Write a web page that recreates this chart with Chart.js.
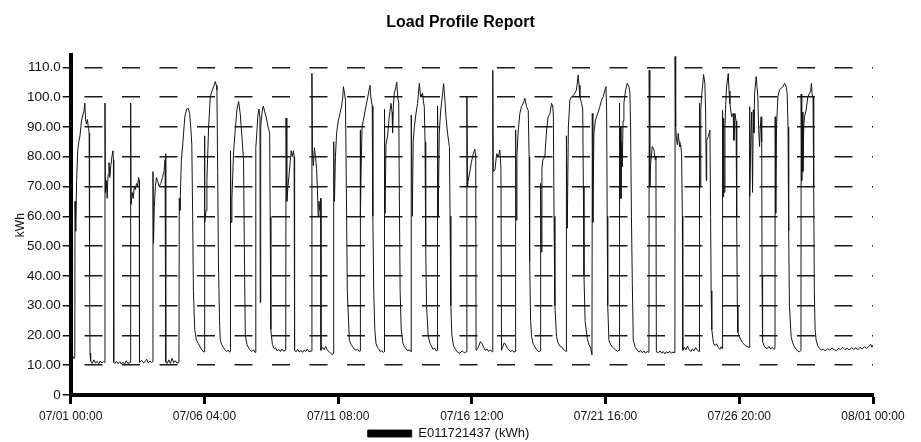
<!DOCTYPE html>
<html>
<head>
<meta charset="utf-8">
<script src="https://cdn.jsdelivr.net/npm/chart.js@4.4.1/dist/chart.umd.min.js"></script>
<style>
html,body{margin:0;padding:0;background:#fff;}
#wrap{width:921px;height:442px;}
</style>
</head>
<body>
<div id="wrap"><canvas id="c" width="921" height="442"></canvas></div>
<script>
// Tick labels (x: hours since 07/01 00:00, every 124 h)
const xTickLabels = ['07/01 00:00','07/06 04:00','07/11 08:00','07/16 12:00','07/21 16:00','07/26 20:00','08/01 00:00'];
const yTickLabels = ['0','10.00','20.00','30.00','40.00','50.00','60.00','70.00','80.00','90.00','100.0','110.0'];
const chartTitle = 'Load Profile Report';
const seriesLabel = 'E011721437 (kWh)';
const yAxisTitle = 'kWh';

// Readings: [hours since 07/01 00:00, kWh]
const loadReadings = [
  // 07/01
  [0,12.5],[1,12],[2,13],[3,12.2],[3.8,13],[4.0,65],[4.6,55],[5.5,72],[6.5,82],[7.5,85],[8.6,87],[10,92],[11.2,94],[12.2,95],[13.1,98],[13.8,92.5],[14.6,91],[15.5,92.5],[16.5,89.5],[17.1,88],[17.5,40],[17.9,14],[18.5,11.5],[20,10.6],[21.5,11.8],[23,10.7],[24.5,11.3],[26,10.5],[27.5,11.4],[29,10.8],[30.5,11.2],[31.6,10.9],
  // 07/02
  [31.8,98],[32.2,68],[33,72],[33.8,66],[34.6,74],[35.5,78],[36.3,73],[37.2,77],[38.2,80],[39.2,82],[39.6,79],[39.9,11],[41,10.6],[42.5,11.3],[44,10.5],[45.5,11.2],[47,10.4],[48.5,11],[50,10.3],[51.5,11.5],[53,10.6],[55.3,10.9],
  // 07/03
  [55.6,98],[56,64],[57,68],[58,66],[59,70],[60,69],[61,71],[62,70],[63,73],[63.6,72],[63.8,11],[64.5,11.2],[66,11.6],[67.5,10.8],[69,11.2],[70.5,12],[72,10.7],[73.5,11.4],[75,10.9],[76,11.2],
  // 07/04
  [76.3,75],[76.8,51],[77.5,63],[78.5,70],[79.5,73],[80.5,72],[82,70],[83.5,71],[85,73],[86.5,75],[87.5,79],[88,81],[88.3,11],[89.5,10.6],[91,11.8],[92.5,10.6],[94,12.3],[95.5,10.8],[97,11.5],[98.5,10.7],[100.4,11],
  // 07/05
  [100.7,66],[101.3,62],[102.6,78.8],[104,84.5],[105.8,93.3],[107.5,96],[109,96.2],[110.3,94.5],[111.5,89],[112.3,84],[113.1,60],[113.8,35],[115,22],[116.5,18.5],[118.3,17.3],[120.5,15.8],[122.9,14.5],[123.7,14.5],
  // 07/06
  [124,87],[124.5,58],[125.5,62],[126.3,72],[127.9,90],[129.4,100],[131,102],[132.5,103.5],[134.1,105.2],[135,104],[135.6,102.4],[136.3,75],[137,45],[138,25],[138.7,18.4],[140,17],[141.5,16],[143,15.2],[144.5,14.6],[146,15.1],[147.3,14.4],[148,14.6],
  // 07/07
  [148.2,82],[148.7,58],[149.5,66],[151.1,82],[152.6,89],[154.1,95.7],[155.7,98.5],[157.2,94.5],[158.8,86.7],[160.3,79],[161,50],[161.9,20],[163.4,17],[165,15.8],[166.5,15],[168,14.6],[169.5,15.2],[171,14.3],[171.5,14.5],
  // 07/08
  [171.8,83],[172.6,88],[173.6,94],[174.6,96],[175.5,93],[175.8,31],[176.2,90],[177.5,95],[178.6,97],[180,95],[181.5,93],[183,90],[184.5,88],[185,60],[185.6,22],[187,17],[188.5,15.6],[190,15.8],[191.5,14.8],[193,15.3],[194.5,14.6],[196,15.4],[197.5,14.7],[199.4,15],
  // 07/09
  [199.7,93],[200.4,65],[201.5,70],[202.5,74],[203.5,78],[204.5,82],[205.5,80],[206.5,82],[207.2,80],[207.6,15],[209,14.5],[210.5,15.3],[212,14.4],[213.5,15],[215,14.3],[216.5,15.1],[218,14.6],[219.5,15.4],[221,14.5],[223.4,14.8],
  // 07/10
  [223.7,108],[224.2,82],[225,77],[226,83],[227,80],[228,76],[228.8,69],[229.5,60],[230.2,65],[231,62],[231.8,66],[232.1,15],[233.5,16],[235,15.2],[236.5,16.3],[238,15],[239.5,14.6],[241,14],[242.5,13.5],[243.6,14],
  // 07/11
  [243.9,85],[244.6,65],[245.5,80],[246.6,88],[248.1,92],[249.7,94.5],[251.2,97],[252.3,100],[252.9,103.5],[254,101],[254.8,99],[255.6,70],[256.5,35],[258.4,18.4],[260,17],[261.5,16.2],[263,15.4],[264.5,15],[266,15.4],[267.5,14.6],[268.3,14.8],
  // 07/12
  [268.5,89],[268.8,60],[269.3,75],[270.2,90],[271.3,92],[272.8,95],[274.4,98],[275.5,100],[277,103],[277.5,104],[278.4,100],[279.6,97],[280.2,60],[281,35],[282,22],[283.1,17.3],[284.5,16],[285.5,15.5],[287,14.6],[288.5,14.9],[290,14.3],[290.7,14.5],
  // 07/13
  [291,96],[291.5,61],[292.4,84],[293.9,87],[295.4,93.4],[297,97.9],[298,95],[298.5,88],[299.2,97],[300.1,101.3],[301.6,103.5],[302.4,105],[303.2,100.1],[304.2,98],[304.7,70],[305.5,35],[306.5,22],[308,17.5],[309.5,16.2],[311,15.5],[312.5,14.8],[314,15.2],[315.6,14.5],
  // 07/14
  [315.8,94],[316.8,60],[317.6,85],[318.7,90],[320.2,94.5],[321.7,97.9],[323.3,104.6],[324.2,101],[324.8,100],[326.3,101.3],[327.3,98],[327.9,96.8],[328.6,85],[329.2,50],[330,30],[331.5,20],[333,17.5],[334.5,16.5],[336,15.3],[337.5,15.8],[339,14.8],[340,15],
  // 07/15
  [340.2,97],[340.8,60],[341.8,88],[343,95],[344.9,101.3],[345.8,104.5],[346.8,100],[348,93.4],[349.5,87.8],[350.5,85],[351.2,83.4],[351.8,60],[352.5,30],[353.5,20],[355,16.5],[357,15.2],[359,14.3],[361,14],[363,14.8],[365,14.2],[367.1,14.5],
  // 07/16
  [367.4,100],[368,70],[368.6,72],[370.2,75],[371.5,78],[373.3,81],[374.8,82.5],[375.6,80],[375.9,15],[377,15.3],[378.5,16.5],[380,17.9],[381.5,17.2],[383,16],[384.5,15],[386,15.4],[387.5,14.6],[389,15.1],[391.2,14.5],
  // 07/17
  [391.4,109],[391.9,75],[393.4,75.5],[395,81],[396.5,80],[398,82.2],[399,76],[399.5,15],[400.5,16],[402,17.5],[403.5,16.8],[405,15.6],[406.5,15.1],[408,14.6],[409.5,15],[411,14.4],[412.4,14.6],
  // 07/18
  [412.6,89],[413.2,58.7],[413.8,80],[414.8,87.8],[416.5,94.5],[418,96.8],[419.6,97.9],[421.2,99.6],[422.7,96.8],[424.3,95.5],[425.1,80],[425.6,45],[426.5,25],[427.4,19.6],[429,17],[430.5,16.2],[432,15.3],[433.5,14.6],[435.6,14.8],
  // 07/19
  [435.8,71],[436.4,48],[437,76],[437.8,78.9],[439.7,80],[441.3,89],[442.8,93.4],[444.4,94.5],[445.9,97.9],[447,97],[447.6,94],[448.2,60],[449,30],[450.5,19.6],[452,17.5],[453.5,16.5],[455.2,16.2],[456.5,15.5],[458,15],[459.4,14.6],
  // 07/20
  [459.7,87],[460.5,56],[461.5,90],[462.9,99],[464.4,100.1],[466,100.5],[467.5,101.3],[469,102.4],[470.6,107.4],[471.4,104],[472.2,100.1],[473.7,97.9],[474.8,96],[475.4,70],[476,40],[477,25],[479,19],[480.5,17],[482,16],[483.4,13.5],
  // 07/21
  [483.7,94.5],[484.2,58],[485.2,88],[486.5,92],[487.6,93.4],[489.2,95],[490.7,96.8],[492.2,99],[493.8,100.1],[495.4,102.3],[496.4,103.5],[497,95],[497.5,60],[498,30],[499.1,18.4],[500.5,17],[502.2,16.2],[504,15.5],[505.5,15.1],[507,14.7],[508.5,15],
  // 07/22
  [508.7,98],[509.2,65],[509.8,90],[510.3,66],[510.8,85],[511.5,76.6],[512.2,92],[513,97.9],[514.6,102.4],[516.1,104.6],[517.7,103.5],[518.6,101.3],[519.2,90],[520,60],[520.8,37.5],[521.7,18.4],[523.5,16],[525.4,15.1],[527,14.4],[528.5,14.9],[530,14.2],[531.5,14.8],[533,14],[534.5,14.6],[536.2,14.3],
  // 07/23
  [536.5,109],[537,70],[537.8,77.8],[539.3,83.4],[540.9,82.2],[542,79],[542.7,80],[543.1,14.5],[545,14.2],[546.5,14.8],[548,14],[549.5,14.6],[551,13.8],[552.5,14.5],[554,14.1],[555.5,14.7],[557,14],[558.5,14.4],[560.3,14.2],
  // 07/24
  [560.5,113.6],[561,90],[561.8,86],[562.6,84],[563.4,87.8],[564.2,85],[564.9,83.3],[565.7,84],[566.5,81.1],[567.2,60],[567.6,15],[569,16],[570.5,15.2],[572,16.4],[573.5,15.3],[575,14.6],[576.5,15.5],[578,14.8],[579.5,15.9],[581,15.1],[582.8,14.6],
  // 07/25
  [583.1,98],[583.6,70],[584.3,96],[585.2,101],[586.2,104.6],[586.9,107.6],[588.1,104.6],[588.8,95],[589.4,72],[589.8,85.5],[591.2,86.7],[592.8,88.9],[593.4,60],[593.9,35],[594.5,22],[596,17.5],[597.5,16.6],[599,17.2],[600.5,16],[602,15.3],[603.2,16.2],[604.3,15.5],
  // 07/26
  [604.5,95.6],[605,66.5],[605.5,93],[606,68],[606.7,90],[607.5,98],[608.2,103.4],[609.8,107.9],[610.5,102],[611.3,97.8],[612.9,93.4],[614.4,94.5],[615,85.5],[616,94.5],[617,92],[617.6,60],[618.2,30],[618.7,21],[620,19.6],[621.5,18.5],[623,17.5],[624.5,17],[626,16.5],[627.5,16.2],[629.2,16],
  // 07/27
  [629.4,96.8],[629.9,66.6],[630.6,85],[631.5,95],[632.3,68],[633,95.7],[633.6,88],[634.2,101.3],[635.7,106.9],[637.2,100.1],[637.9,90],[638.8,83.4],[639.5,90],[640.3,93.4],[640.8,85],[641.1,40],[641.6,18],[643,16.5],[644.5,15.8],[646,15.6],[647.5,16.3],[649,15.4],[650.5,16],[652,15.3],[653.1,15.6],
  // 07/28
  [653.3,93.4],[653.8,61],[654.5,90],[655.8,100.1],[657.3,102.4],[658.8,103],[660.4,103.5],[662,104.6],[663.5,103.5],[664.4,101.3],[665.2,90],[665.8,55],[666.5,30],[668.1,19.6],[669.5,17.5],[671.2,16.2],[672.5,15.5],[674,14.8],[675.9,14.5],[677.2,15],
  // 07/29
  [677.4,101],[677.9,72],[678.4,95],[679,75],[679.8,90],[680.5,93.4],[682,95.7],[683.6,100.1],[685.1,101.3],[686.2,102],[686.9,104.6],[687.5,101],[688.4,100],[689,70],[689.6,35],[690.3,22],[691.3,18.4],[692.8,16.5],[694.4,15.6],[696,15.2],
  // 07/30 - 07/31
  [698,15.3],[700,14.8],[702,15.6],[704,15],[706,15.8],[708,15.2],[710,14.9],[712,15.6],[714,15.3],[716,16],[718,15.2],[720,15.7],[722,15.1],[724,15.9],[726,15.3],[728,15.8],[730,15.2],[732,16],[734,15.5],[736,16.2],[738,15.6],[740,16.4],[742,17],[743,16],[744,16.8]
];

Chart.defaults.font.family = '"Liberation Sans", Arial, Helvetica, sans-serif';
Chart.defaults.color = '#111';

// nudges the legend a little left of the canvas centre, as in the reference
const legendNudge = {
  id: 'legendNudge',
  afterLayout(chart) {
    const lg = chart.legend;
    if (lg) { lg.left -= 12; lg.right -= 12; }
  }
};

new Chart(document.getElementById('c'), {
  type: 'line',
  plugins: [legendNudge],
  data: {
    datasets: [{
      label: seriesLabel,
      data: loadReadings.map(([h, v]) => ({ x: h, y: v })),
      borderColor: '#151515',
      backgroundColor: '#000',
      borderWidth: 1,
      pointRadius: 0,
      tension: 0,
      fill: false,
      yAxisID: 'y'
    }]
  },
  options: {
    responsive: false,
    animation: false,
    devicePixelRatio: 1,
    layout: { padding: { left: 0, right: 0, top: 0, bottom: 0 } },
    plugins: {
      title: {
        display: true, text: chartTitle, color: '#000',
        font: { size: 16, weight: 'bold' },
        padding: { top: 13.4, bottom: 22.8 }
      },
      legend: {
        position: 'bottom', maxHeight: 15,
        labels: { boxWidth: 44, boxHeight: 7, padding: 0, color: '#111', font: { size: 13 } }
      },
      tooltip: { enabled: false }
    },
    scales: {
      x: {
        type: 'linear', min: 0, max: 744,
        afterFit: s => { s.height = 32; },
        border: { display: true, color: '#000', width: 4 },
        grid: { display: true, drawOnChartArea: false, drawTicks: true, tickLength: 9, tickWidth: 3, tickColor: '#000' },
        ticks: {
          stepSize: 124, autoSkip: false, maxRotation: 0, padding: 5,
          font: { size: 12 }, color: '#111',
          callback: v => xTickLabels[Math.round(v / 124)] ?? ''
        }
      },
      y: {
        min: 0, max: 114,
        afterFit: s => { s.width = 70.7; },
        border: { display: true, color: '#000', width: 4, dash: [18, 19.5], dashOffset: 26 },
        grid: {
          color: ctx => (ctx.tick && ctx.tick.value === 0) ? 'rgba(0,0,0,0)' : '#1a1a1a',
          lineWidth: 1.5, drawTicks: true, tickLength: 8, tickWidth: 1.5, tickColor: '#111', tickBorderDash: []
        },
        ticks: {
          stepSize: 10, includeBounds: false, padding: 2,
          font: { size: 13.5 }, color: '#111',
          callback: v => yTickLabels[Math.round(v / 10)]
        },
        title: { display: true, text: yAxisTitle, color: '#111', font: { size: 12 }, padding: { top: 13, bottom: 0 } }
      },
      yR: {
        position: 'right', display: true,
        afterFit: s => { s.width = 48; },
        border: { display: false },
        grid: { display: false, drawTicks: false },
        ticks: { display: false }
      }
    }
  }
});
</script>
</body>
</html>
